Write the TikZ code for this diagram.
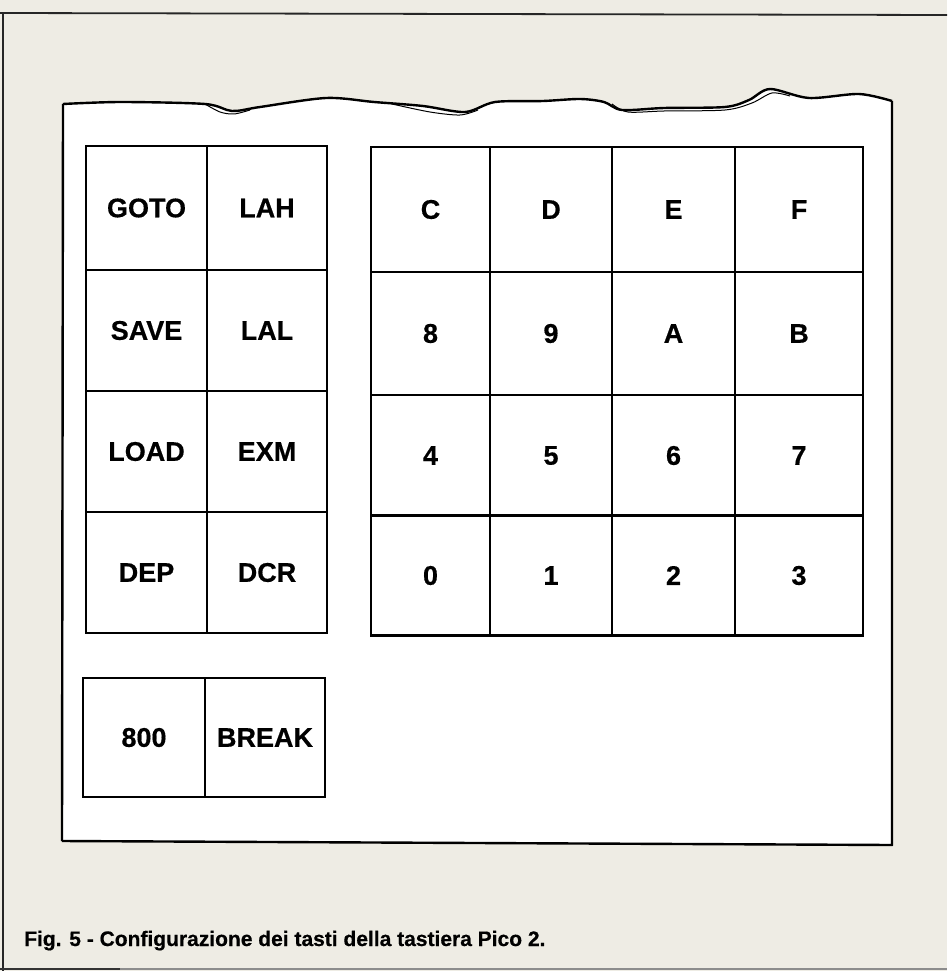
\documentclass[tikz,border=0pt]{standalone}
\usepackage{fontspec}
\setmainfont{Liberation Sans}
\newfontfamily\keyfont[FakeBold=0.5]{Liberation Sans Bold}
\begin{document}
\begin{tikzpicture}[x=1pt,y=-1pt,
  keybox/.style={draw=black, line width=2.8pt, inner sep=0pt, font=\fontsize{27}{30}\keyfont},
  edge/.style={draw=black, line width=2.4pt, line join=round},
  frame/.style={draw=black!85, line width=1.8pt}]
\definecolor{paper}{HTML}{EEECE4}
\useasboundingbox (0,0) rectangle (947,971);
\fill[paper] (0,0) rectangle (947,971);
% outer frame
\draw[frame] (0,13) -- (947,15);
\draw[frame] (3,13) -- (3,971);
\draw[draw=black!80, line width=1.5pt] (0,969) -- (120,969);
\draw[draw=black!45, line width=1.5pt] (120,969) -- (947,969);
% card
\def\torn{(63,104) (121,102) (205,104) (232,111) (260,107) (326,98) (374,102) (423,106) (465,112) (495,102) (543,101) (580,99) (604,102) (622,110) (664,108) (725,107) (749,100) (770,89) (809,98) (859,94) (892,101)}
\fill[white] (62,841) -- plot[smooth,tension=0.5] coordinates {\torn} -- (892,845) -- cycle;
\draw[edge] (62,841) -- (63,104);
\draw[edge] plot[smooth,tension=0.5] coordinates {\torn};
\draw[edge] (892,101) -- (892,845) -- (62,841);
% double torn segments
\draw[black, line width=1pt] plot[smooth,tension=0.5] coordinates {(205,104) (220,112) (234,114) (250,110)};
\draw[black, line width=1pt] plot[smooth,tension=0.5] coordinates {(392,104) (430,112) (460,115) (478,110)};
\draw[black, line width=1pt] plot[smooth,tension=0.5] coordinates {(612,104) (628,112) (664,111) (725,110) (752,103) (772,93) (790,96)};
% left key block
\node[keybox, minimum width=121pt, minimum height=124pt] (goto) at (146.5,208) {GOTO};
\node[keybox, minimum width=120pt, minimum height=124pt] (lah) at (267,208) {LAH};
\node[keybox, minimum width=121pt, minimum height=121pt] (save) at (146.5,330.5) {SAVE};
\node[keybox, minimum width=120pt, minimum height=121pt] (lal) at (267,330.5) {LAL};
\node[keybox, minimum width=121pt, minimum height=121pt] (load) at (146.5,451.5) {LOAD};
\node[keybox, minimum width=120pt, minimum height=121pt] (exm) at (267,451.5) {EXM};
\node[keybox, minimum width=121pt, minimum height=121pt] (dep) at (146.5,572.5) {DEP};
\node[keybox, minimum width=120pt, minimum height=121pt] (dcr) at (267,572.5) {DCR};
% bottom keys
\node[keybox, minimum width=122pt, minimum height=119pt] (k800) at (144,737.5) {800};
\node[keybox, minimum width=120pt, minimum height=119pt] (break) at (265,737.5) {BREAK};
% hex keypad
\foreach \yc [count=\i] in {209.5, 333.5, 455.5, 575.5}{
  \foreach \xc [count=\j] in {430.5, 551, 673.5, 799}{
    \coordinate (c\i\j) at (\xc,\yc);
  }
}
\foreach \lab/\i/\j/\h in {C/1/1/125, D/1/2/125, E/1/3/125, F/1/4/125,
                           8/2/1/123, 9/2/2/123, A/2/3/123, B/2/4/123,
                           4/3/1/121, 5/3/2/121, 6/3/3/121, 7/3/4/121,
                           0/4/1/120, 1/4/2/120, 2/4/3/120, 3/4/4/120}{
  \ifcase\j\or\def\w{119}\or\def\w{122}\or\def\w{123}\or\def\w{128}\fi
  \node[keybox, minimum width=\w pt, minimum height=\h pt] (key\lab) at (c\i\j) {\lab};
}
% caption
\node[anchor=base west, inner sep=0pt, font=\fontsize{21}{24}\keyfont] (cap) at (24,946) {Fig. 5 - Configurazione dei tasti della tastiera Pico 2.};
\end{tikzpicture}
\end{document}
